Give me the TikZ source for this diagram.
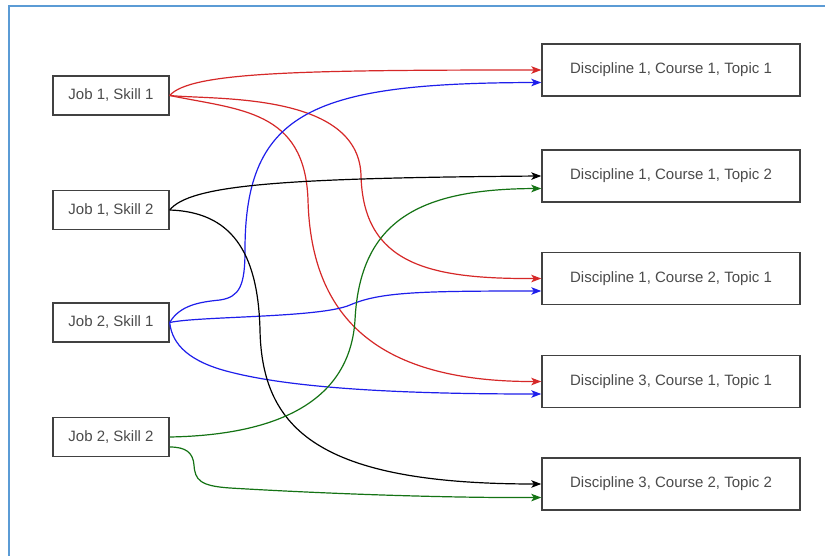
\documentclass[tikz,border=0pt]{standalone}
\usepackage{fontspec}
\setmainfont{Liberation Sans}
\usetikzlibrary{arrows.meta,calc}
\definecolor{frameblue}{RGB}{91,155,213}
\definecolor{ered}{RGB}{214,40,40}
\definecolor{eblue}{RGB}{30,30,235}
\definecolor{egreen}{RGB}{20,115,20}
\definecolor{boxline}{RGB}{65,65,65}
\definecolor{txt}{RGB}{75,75,75}
\begin{document}
\begin{tikzpicture}[x=1pt,y=-1pt,
  box/.style={draw=boxline, line width=1.4pt, fill=white, text=txt,
    font=\fontsize{15}{18}\selectfont, inner sep=0pt},
  lbox/.style={box, minimum width=116pt, minimum height=39pt},
  rbox/.style={box, minimum width=258pt, minimum height=52pt},
  conn/.style={line width=1.2pt, -{Stealth[length=10pt,width=7.5pt,inset=2.5pt]}},
]
\fill[white] (0,0) rectangle (825,556);
\useasboundingbox (0,0) rectangle (825,556);
\draw[frameblue, line width=2pt] (8.8,556) -- (8.8,6.5) -- (825,6.5);

\node[lbox] (j1s1) at (111,95.5) {Job 1, Skill 1};
\node[lbox] (j1s2) at (111,210) {Job 1, Skill 2};
\node[lbox] (j2s1) at (111,322.5) {Job 2, Skill 1};
\node[lbox] (j2s2) at (111,437) {Job 2, Skill 2};

\node[rbox] (t1) at (671,70) {Discipline 1, Course 1, Topic 1};
\node[rbox] (t2) at (671,176) {Discipline 1, Course 1, Topic 2};
\node[rbox] (t3) at (671,278.5) {Discipline 1, Course 2, Topic 1};
\node[rbox] (t4) at (671,381.5) {Discipline 3, Course 1, Topic 1};
\node[rbox] (t5) at (671,484) {Discipline 3, Course 2, Topic 2};

\coordinate (t1b) at ($(t1.west)+(0,12.5)$);
\coordinate (t2b) at ($(t2.west)+(0,12.5)$);
\coordinate (t3b) at ($(t3.west)+(0,12.5)$);
\coordinate (t4b) at ($(t4.west)+(0,12.5)$);
\coordinate (t5b) at ($(t5.west)+(0,13.5)$);
\coordinate (g2s) at ($(j2s2.east)+(0,10)$);

% red
\draw[conn,ered] (j1s1.east) .. controls (190,72) and (300,70) .. (t1.west);
\draw[conn,ered] (j1s1.east) .. controls (215,100) and (358,92) .. (361,175)
  .. controls (363,265) and (430,279) .. (t3.west);
\draw[conn,ered] (j1s1.east) .. controls (240,110) and (305,110) .. (308,200)
  .. controls (311,320) and (380,382) .. (t4.west);
% blue
\draw[conn,eblue] (j2s1.east) .. controls (180,305) and (200,302) .. (220,300)
  .. controls (240,297) and (245,285) .. (245,250)
  .. controls (245,110) and (315,83) .. (t1b);
\draw[conn,eblue] (j2s1.east) .. controls (200,316) and (320,318) .. (350,305)
  .. controls (380,292) and (420,291) .. (t3b);
\draw[conn,eblue] (j2s1.east) .. controls (172,345) and (190,362) .. (230,372)
  .. controls (300,390) and (420,394) .. (t4b);
% black
\draw[conn,black] (j1s2.east) .. controls (190,185) and (280,178) .. (t2.west);
\draw[conn,black] (j1s2.east) .. controls (230,212) and (258,250) .. (260,330)
  .. controls (262,430) and (320,484) .. (t5.west);
% green
\draw[conn,egreen] (j2s2.east) .. controls (280,435) and (350,400) .. (355,320)
  .. controls (360,220) and (420,189) .. (t2b);
\draw[conn,egreen] (g2s) .. controls (185,447) and (193,452) .. (194,465)
  .. controls (195,480) and (200,486) .. (230,488)
  .. controls (330,494) and (450,498) .. (t5b);
\end{tikzpicture}
\end{document}
